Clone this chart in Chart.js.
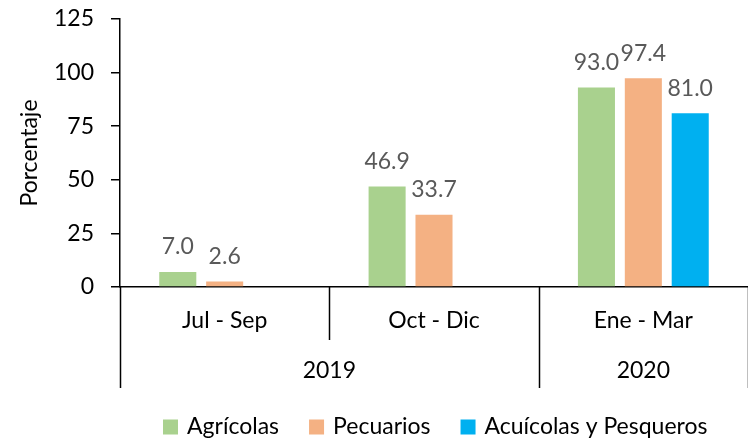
<!DOCTYPE html>
<html><head><meta charset="utf-8">
<script src="https://cdn.jsdelivr.net/npm/chart.js@4/dist/chart.umd.min.js"></script>
<style>html,body{margin:0;padding:0;background:#fff}#wrap{width:748px;height:440px}</style>
</head><body><div id="wrap"><canvas id="c" width="748" height="440"></canvas></div>
<script>
const categories = ['Jul - Sep', 'Oct - Dic', 'Ene - Mar'];
const years = ['2019', '2019', '2020'];
const agricolas = [7.0, 46.9, 93.0];
const pecuarios = [2.6, 33.7, 97.4];
const acuicolas = [null, null, 81.0];
const seriesNames = ['Agrícolas', 'Pecuarios', 'Acuícolas y Pesqueros'];
const seriesColors = ['#A9D18E', '#F4B183', '#00B0F0'];
const yTicks = [0, 25, 50, 75, 100, 125];

const FONT = 'Lato, "Open Sans", sans-serif';
const FS = 23;

const multiLevel = {
  id: 'multiLevel',
  afterDraw(chart) {
    const ctx = chart.ctx, xs = chart.scales.x, area = chart.chartArea;
    const n = categories.length;
    const w = xs.getPixelForValue(1) - xs.getPixelForValue(0);
    const b = i => xs.getPixelForValue(i) - w / 2;
    const y0 = area.bottom;
    ctx.save();
    ctx.strokeStyle = '#000'; ctx.lineWidth = 1.5;
    for (let i = 0; i <= n; i++) {
      const x = Math.round(b(i)) + 0.5;
      const isYearEdge = i === 0 || i === n || years[i] !== years[i - 1];
      ctx.beginPath(); ctx.moveTo(x, y0); ctx.lineTo(x, isYearEdge ? y0 + 101 : y0 + 53); ctx.stroke();
    }
    ctx.fillStyle = '#000'; ctx.font = FS + 'px ' + FONT; ctx.textAlign = 'center'; ctx.textBaseline = 'middle';
    let s = 0;
    for (let i = 1; i <= n; i++) {
      if (i === n || years[i] !== years[i - 1]) {
        ctx.fillText(years[s], (b(s) + b(i)) / 2, y0 + 84);
        s = i;
      }
    }
    // legend
    const ly = 427;
    let x = 163;
    ctx.textAlign = 'left';
    chart.data.datasets.forEach((ds, di) => {
      ctx.fillStyle = ds.backgroundColor;
      ctx.fillRect(x, ly - 7.5, 15, 15);
      x += 15 + 9;
      ctx.fillStyle = '#000';
      ctx.fillText(ds.label, x, ly);
      x += ctx.measureText(ds.label).width + 30;
    });
    ctx.restore();
  }
};

const valueLabels = {
  id: 'valueLabels',
  afterDatasetsDraw(chart) {
    const ctx = chart.ctx;
    ctx.save();
    ctx.fillStyle = '#595959'; ctx.font = FS + 'px ' + FONT; ctx.textAlign = 'center'; ctx.textBaseline = 'middle';
    chart.data.datasets.forEach((ds, di) => {
      chart.getDatasetMeta(di).data.forEach((bar, i) => {
        const v = ds.data[i];
        if (v == null) return;
        ctx.fillText(v.toFixed(1), bar.x, bar.y - 25);
      });
    });
    ctx.restore();
  }
};

new Chart(document.getElementById('c'), {
  type: 'bar',
  data: {
    labels: categories,
    datasets: [
      { label: seriesNames[0], data: agricolas, backgroundColor: seriesColors[0] },
      { label: seriesNames[1], data: pecuarios, backgroundColor: seriesColors[1] },
      { label: seriesNames[2], data: acuicolas, backgroundColor: seriesColors[2] }
    ]
  },
  options: {
    responsive: false,
    animation: false,
    devicePixelRatio: 1,
    layout: { padding: { top: 0, left: 0, right: 0, bottom: 43 } },
    datasets: { bar: { categoryPercentage: 0.672, barPercentage: 0.79 } },
    plugins: {
      tooltip: { enabled: false },
      legend: { display: false }
    },
    scales: {
      x: {
        grid: { display: false, drawTicks: false },
        border: { display: true, color: '#000', width: 1.5 },
        ticks: { font: { family: FONT, size: FS }, color: '#000', padding: 20, maxRotation: 0 },
        afterFit(scale) { scale.height = 110; }
      },
      y: {
        min: 0, max: 125,
        afterBuildTicks(scale) { scale.ticks = yTicks.map(v => ({ value: v })); },
        grid: { drawOnChartArea: false, drawTicks: true, tickLength: 9, color: '#000', lineWidth: 1.5 },
        border: { display: true, color: '#000', width: 1.5 },
        ticks: { font: { family: FONT, size: FS }, color: '#000', padding: 17 },
        title: { display: true, text: 'Porcentaje', font: { family: FONT, size: FS }, color: '#000', padding: { top: 16, bottom: 0 } },
        afterFit(scale) { scale.width = 120; scale.paddingTop = 19; scale.paddingBottom = 14; }
      }
    }
  },
  plugins: [multiLevel, valueLabels]
});
</script></body></html>
